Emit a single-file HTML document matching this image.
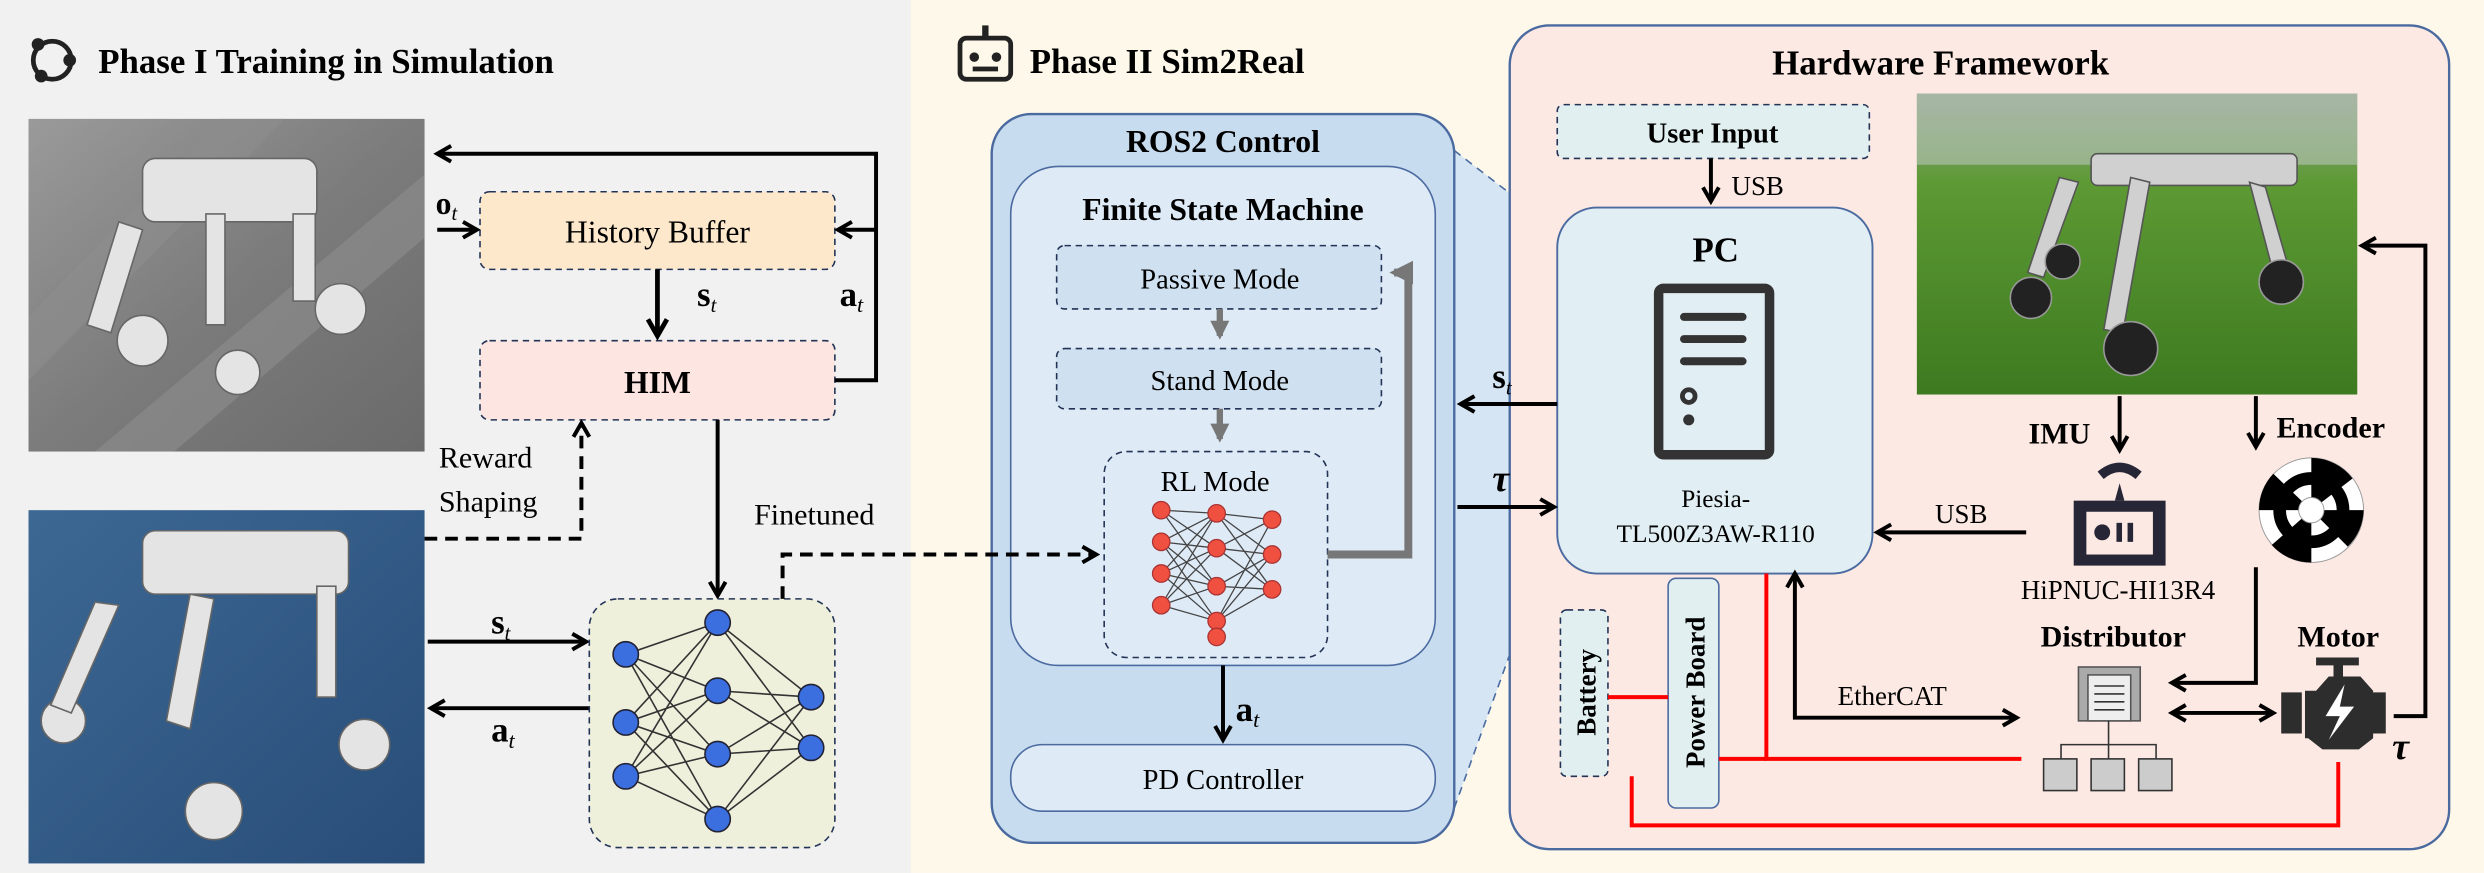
<!DOCTYPE html>
<html><head><meta charset="utf-8"><style>html,body{margin:0;padding:0;}svg{display:block}svg text{font-family:"Liberation Serif",serif;}</style></head>
<body>
<svg width="2484" height="873" viewBox="0 0 1568 551" xmlns="http://www.w3.org/2000/svg" font-family="Liberation Serif, serif">
<defs>
<marker id="ah" viewBox="0 0 10 10" refX="8" refY="5" markerWidth="5" markerHeight="5" orient="auto-start-reverse"><path d="M1,1 L8,5 L1,9" fill="none" stroke="#000" stroke-width="2"/></marker>
<marker id="ag" viewBox="0 0 10 10" refX="8" refY="5" markerWidth="3" markerHeight="3" orient="auto"><path d="M0,0 L10,5 L0,10z" fill="#777"/></marker>
<linearGradient id="g1" x1="0" y1="0" x2="1" y2="1"><stop offset="0" stop-color="#9a9a9a"/><stop offset="0.5" stop-color="#7c7c7c"/><stop offset="1" stop-color="#6a6a6a"/></linearGradient>
<linearGradient id="g2" x1="0" y1="0" x2="1" y2="1"><stop offset="0" stop-color="#3d6894"/><stop offset="1" stop-color="#284d78"/></linearGradient>
<linearGradient id="g3" x1="0" y1="0" x2="0" y2="1"><stop offset="0" stop-color="#8fa08a"/><stop offset="0.3" stop-color="#5d9a34"/><stop offset="1" stop-color="#3d7a20"/></linearGradient>
</defs>
<rect width="1568" height="551" fill="#fdf8ea"/>
<rect width="575" height="551" fill="#f1f1f1"/>
<!-- Phase I -->
<circle cx="33" cy="38" r="12" fill="none" stroke="#222" stroke-width="3"/><circle cx="24" cy="28" r="4" fill="#222"/><circle cx="44" cy="38" r="4" fill="#222"/><circle cx="26" cy="48" r="4" fill="#222"/>
<text x="62" y="46" font-size="22" font-weight="bold">Phase I Training in Simulation</text>
<rect x="18" y="75" width="250" height="210" fill="url(#g1)"/>
<path d="M18,200 L140,75 H180 L18,240z M60,285 L268,110 V150 L110,285z" fill="#8e8e8e" opacity="0.6"/>
<g fill="#e4e4e4" stroke="#666" stroke-width="1"><rect x="90" y="100" width="110" height="40" rx="8"/><path d="M75,140 L90,145 L70,210 L55,205z"/><circle cx="90" cy="215" r="16"/><circle cx="215" cy="195" r="16"/><rect x="185" y="135" width="14" height="55"/><rect x="130" y="135" width="12" height="70"/><circle cx="150" cy="235" r="14"/></g>
<rect x="18" y="322" width="250" height="223" fill="url(#g2)"/>
<g fill="#e4e4e4" stroke="#666" stroke-width="1"><rect x="90" y="335" width="130" height="40" rx="8"/><path d="M120,375 L135,378 L120,460 L105,455z"/><circle cx="40" cy="455" r="14"/><circle cx="135" cy="512" r="18"/><circle cx="230" cy="470" r="16"/><rect x="200" y="370" width="12" height="70"/><path d="M60,380 L75,382 L45,450 L32,445z"/></g>
<rect x="303" y="121" width="224" height="49" rx="6" fill="#fde8cc" stroke="#223355" stroke-dasharray="4,3"/>
<text x="415" y="153" font-size="20" text-anchor="middle">History Buffer</text>
<rect x="303" y="215" width="224" height="50" rx="6" fill="#fde6e1" stroke="#223355" stroke-dasharray="4,3"/>
<text x="415" y="248" font-size="20" font-weight="bold" text-anchor="middle">HIM</text>
<g stroke="#000" stroke-width="2.5" fill="none">
<path d="M527,240 H553 V97 H276" marker-end="url(#ah)"/>
<path d="M553,145 H529" marker-end="url(#ah)"/>
<path d="M276,145 H301" marker-end="url(#ah)"/>
<path d="M415,170 V212" stroke-width="3" marker-end="url(#ah)"/>
<path d="M453,265 V376" marker-end="url(#ah)"/>
<path d="M270,405 H370" marker-end="url(#ah)"/>
<path d="M372,447 H272" marker-end="url(#ah)"/>
<path d="M268,340 H367 V267" stroke-dasharray="8,5" marker-end="url(#ah)"/>
</g>
<text x="275" y="135" font-size="20" font-weight="bold">o<tspan font-size="13" font-style="italic" font-weight="normal" dy="4">t</tspan></text>
<text x="440" y="193" font-size="22" font-weight="bold">s<tspan font-size="13" font-style="italic" font-weight="normal" dy="4">t</tspan></text>
<text x="530" y="193" font-size="22" font-weight="bold">a<tspan font-size="14" font-style="italic" font-weight="normal" dy="4">t</tspan></text>
<text x="277" y="295" font-size="19">Reward</text>
<text x="277" y="323" font-size="19">Shaping</text>
<text x="476" y="331" font-size="19">Finetuned</text>
<text x="310" y="400" font-size="22" font-weight="bold">s<tspan font-size="13" font-style="italic" font-weight="normal" dy="4">t</tspan></text>
<text x="310" y="468" font-size="22" font-weight="bold">a<tspan font-size="14" font-style="italic" font-weight="normal" dy="4">t</tspan></text>
<rect x="372" y="378" width="155" height="157" rx="18" fill="#eef0dc" stroke="#223355" stroke-dasharray="4,3"/>
<g stroke="#333" stroke-width="1">
<path d="M395,413 L453,393 M395,413 L453,436 M395,413 L453,476 M395,456 L453,393 M395,456 L453,436 M395,456 L453,476 M395,456 L453,517 M395,490 L453,436 M395,490 L453,476 M395,490 L453,517 M395,413 L453,517 M395,490 L453,393 M453,393 L512,440 M453,436 L512,440 M453,476 L512,440 M453,517 L512,440 M453,393 L512,472 M453,436 L512,472 M453,476 L512,472 M453,517 L512,472"/>
</g>
<g fill="#3b6fe0" stroke="#223" stroke-width="1"><circle cx="395" cy="413" r="8"/><circle cx="395" cy="456" r="8"/><circle cx="395" cy="490" r="8"/><circle cx="453" cy="393" r="8"/><circle cx="453" cy="436" r="8"/><circle cx="453" cy="476" r="8"/><circle cx="453" cy="517" r="8"/><circle cx="512" cy="440" r="8"/><circle cx="512" cy="472" r="8"/></g>
<!-- Phase II -->
<rect x="606" y="24" width="32" height="26" rx="4" fill="none" stroke="#222" stroke-width="3"/><circle cx="615" cy="36" r="3" fill="#222"/><circle cx="629" cy="36" r="3" fill="#222"/><rect x="614" y="42" width="16" height="3" fill="#222"/><rect x="620" y="16" width="4" height="8" fill="#222"/>
<text x="650" y="46" font-size="22" font-weight="bold">Phase II Sim2Real</text>
<polygon points="918,95 983,145 983,330 918,510" fill="#d6e5f3"/>
<path d="M918,95 L983,145 M918,510 L983,330" stroke="#4a6aa0" stroke-dasharray="5,4"/>
<rect x="626" y="72" width="292" height="460" rx="25" fill="#c8dcef" stroke="#4a6aa0" stroke-width="1.5"/>
<text x="772" y="96" font-size="20" font-weight="bold" text-anchor="middle">ROS2 Control</text>
<rect x="638" y="105" width="268" height="315" rx="30" fill="#deeaf6" stroke="#4a6aa0"/>
<text x="772" y="139" font-size="20" font-weight="bold" text-anchor="middle">Finite State Machine</text>
<rect x="667" y="155" width="205" height="40" rx="5" fill="#cfe0f0" stroke="#223355" stroke-dasharray="4,3"/>
<text x="770" y="182" font-size="18" text-anchor="middle">Passive Mode</text>
<rect x="667" y="220" width="205" height="38" rx="5" fill="#cfe0f0" stroke="#223355" stroke-dasharray="4,3"/>
<text x="770" y="246" font-size="18" text-anchor="middle">Stand Mode</text>
<rect x="697" y="285" width="141" height="130" rx="14" fill="#deeaf6" stroke="#223355" stroke-dasharray="4,3"/>
<text x="767" y="310" font-size="18" text-anchor="middle">RL Mode</text>
<g stroke="#777" stroke-width="4" fill="none"><path d="M770,195 V212" marker-end="url(#ag)"/><path d="M770,258 V277" marker-end="url(#ag)"/><path d="M838,350 H889 V172 H880" stroke-width="5" marker-end="url(#ag)"/></g>
<g stroke="#444" stroke-width="0.8"><path d="M733,342 L768,324 M733,342 L768,346 M733,342 L768,370 M733,342 L768,392 M733,362 L768,324 M733,362 L768,346 M733,362 L768,370 M733,362 L768,392 M733,382 L768,324 M733,382 L768,346 M733,382 L768,370 M733,382 L768,392 M733,322 L768,324 M733,322 L768,346 M733,322 L768,370 M768,324 L803,350 M768,346 L803,350 M768,370 L803,350 M768,392 L803,350 M768,324 L803,372 M768,346 L803,372 M768,370 L803,372 M768,392 L803,372 M768,392 L803,328 M768,324 L803,328 M768,346 L803,328"/></g>
<g fill="#f05040" stroke="#a33" stroke-width="0.8"><circle cx="733" cy="322" r="5.5"/><circle cx="733" cy="342" r="5.5"/><circle cx="733" cy="362" r="5.5"/><circle cx="733" cy="382" r="5.5"/><circle cx="768" cy="324" r="5.5"/><circle cx="768" cy="346" r="5.5"/><circle cx="768" cy="370" r="5.5"/><circle cx="768" cy="392" r="5.5"/><circle cx="768" cy="402" r="5.5"/><circle cx="803" cy="328" r="5.5"/><circle cx="803" cy="350" r="5.5"/><circle cx="803" cy="372" r="5.5"/></g>
<path d="M494,378 V350 H692" stroke="#000" stroke-width="2.5" fill="none" stroke-dasharray="8,5" marker-end="url(#ah)"/>
<path d="M772,420 V467" stroke="#000" stroke-width="2.5" marker-end="url(#ah)"/>
<text x="780" y="455" font-size="22" font-weight="bold">a<tspan font-size="14" font-style="italic" font-weight="normal" dy="4">t</tspan></text>
<rect x="638" y="470" width="268" height="42" rx="20" fill="#deeaf6" stroke="#4a6aa0"/>
<text x="772" y="498" font-size="18" text-anchor="middle">PD Controller</text>
<!-- Hardware -->
<rect x="953" y="16" width="593" height="520" rx="25" fill="#fde9e3" stroke="#4a6aa0" stroke-width="1.5"/>
<text x="1225" y="47" font-size="22" font-weight="bold" text-anchor="middle">Hardware Framework</text>
<rect x="983" y="66" width="197" height="34" rx="4" fill="#e1eff0" stroke="#223355" stroke-dasharray="4,3"/>
<text x="1081" y="90" font-size="18" font-weight="bold" text-anchor="middle">User Input</text>
<rect x="983" y="131" width="199" height="231" rx="25" fill="#e1eef3" stroke="#4a6aa0" stroke-width="1.2"/>
<text x="1083" y="165" font-size="22" font-weight="bold" text-anchor="middle">PC</text>
<rect x="1047" y="182" width="70" height="105" rx="3" fill="none" stroke="#333" stroke-width="6"/>
<g stroke="#333" stroke-width="5" stroke-linecap="round"><path d="M1063,200 H1100 M1063,214 H1100 M1063,228 H1100"/></g>
<circle cx="1066" cy="250" r="4" fill="none" stroke="#333" stroke-width="3"/><circle cx="1066" cy="265" r="3.5" fill="#333"/>
<text x="1083" y="320" font-size="16" text-anchor="middle">Piesia-</text>
<text x="1083" y="342" font-size="16" text-anchor="middle">TL500Z3AW-R110</text>
<rect x="1210" y="59" width="278" height="190" fill="url(#g3)"/>
<rect x="1210" y="59" width="278" height="45" fill="#b8c4b8" opacity="0.6"/>
<g fill="#d0d0d0" stroke="#555" stroke-width="1"><rect x="1320" y="97" width="130" height="20" rx="4"/><path d="M1300,112 L1312,115 L1290,175 L1280,172z"/><path d="M1345,112 L1357,115 L1340,210 L1328,208z"/><path d="M1420,115 L1430,118 L1445,170 L1435,172z"/></g>
<g fill="#222" stroke="#999"><circle cx="1282" cy="188" r="13"/><circle cx="1345" cy="220" r="17"/><circle cx="1302" cy="165" r="11"/><circle cx="1440" cy="178" r="14"/></g>
<g stroke="#000" stroke-width="2.5" fill="none">
<path d="M1080,100 V127" marker-end="url(#ah)"/>
<path d="M983,255 H922" marker-end="url(#ah)"/>
<path d="M920,320 H981" marker-end="url(#ah)"/>
<path d="M1338,250 V284" marker-end="url(#ah)"/>
<path d="M1424,250 V282" marker-end="url(#ah)"/>
<path d="M1279,336 H1185" marker-end="url(#ah)"/>
<path d="M1511,452 H1531 V155 H1491" marker-end="url(#ah)"/>
<path d="M1424,358 V431 H1371" marker-end="url(#ah)"/>
<path d="M1371,450 H1435" marker-start="url(#ah)" marker-end="url(#ah)"/>
<path d="M1133,362 V453 H1273" marker-start="url(#ah)" marker-end="url(#ah)"/>
</g>
<text x="1093" y="123" font-size="17">USB</text>
<text x="1238" y="330" font-size="17" text-anchor="middle">USB</text>
<text x="1160" y="445" font-size="17">EtherCAT</text>
<text x="942" y="245" font-size="22" font-weight="bold">s<tspan font-size="13" font-style="italic" font-weight="normal" dy="4">t</tspan></text>
<text x="942" y="310" font-size="24" font-weight="bold" font-style="italic">τ</text>
<text x="1510" y="479" font-size="24" font-weight="bold" font-style="italic">τ</text>
<text x="1300" y="280" font-size="19" font-weight="bold" text-anchor="middle">IMU</text>
<text x="1437" y="276" font-size="19" font-weight="bold">Encoder</text>
<path d="M1326,300 Q1338,290 1350,300" stroke="#262636" stroke-width="6" fill="none"/>
<path d="M1335,316 L1338,305 L1341,316z" fill="#262636"/>
<rect x="1309" y="316" width="58" height="41" fill="#262636"/><rect x="1317" y="323" width="42" height="27" fill="#fde9e3"/><circle cx="1327" cy="336" r="5" fill="#262636"/><rect x="1336" y="330" width="3.5" height="12" fill="#262636"/><rect x="1343" y="330" width="3.5" height="12" fill="#262636"/>
<text x="1337" y="378" font-size="17" text-anchor="middle">HiPNUC-HI13R4</text>
<circle cx="1459" cy="322" r="33" fill="#fff" stroke="#999" stroke-width="0.6"/>
<path d="M1459,289 A33,33 0 0 1 1485,302 L1459,322z M1426,322 A33,33 0 0 1 1435,299 L1459,322z M1459,322 L1492,322 A33,33 0 0 1 1482,345 L1459,322z M1459,355 A33,33 0 0 1 1434,344 L1459,322z" fill="#000"/>
<circle cx="1459" cy="322" r="20" fill="none" stroke="#000" stroke-width="8"/>
<circle cx="1459" cy="322" r="8" fill="#fff" stroke="#999" stroke-width="0.6"/>
<text x="1334" y="408" font-size="19" font-weight="bold" text-anchor="middle">Distributor</text>
<text x="1476" y="408" font-size="19" font-weight="bold" text-anchor="middle">Motor</text>
<rect x="1312" y="421" width="39" height="34" fill="#aaa" stroke="#555"/><rect x="1318" y="426" width="27" height="29" fill="#eee" stroke="#555"/>
<g stroke="#333" stroke-width="1"><path d="M1322,433 H1341 M1322,438 H1341 M1322,443 H1341 M1322,448 H1341"/></g>
<path d="M1331,455 V479 M1301,479 V470 H1361 V479" stroke="#333" fill="none"/>
<g fill="#ccc" stroke="#333"><rect x="1290" y="479" width="21" height="20"/><rect x="1320" y="479" width="21" height="20"/><rect x="1350" y="479" width="21" height="20"/></g>
<path d="M1455,436 H1462 L1470,427 H1490 L1498,436 V466 L1489,473 H1466 L1457,466 H1455z M1440,437 H1453 V463 H1440z M1498,437 H1506 V463 H1498z M1462,415 H1489 V420 H1462z M1473,420 H1479 V427 H1473z" fill="#2d2d2d"/>
<path d="M1480,432 L1468,452 H1477 L1470,467 L1486,446 H1477z" fill="#fff"/>
<rect x="985" y="385" width="30" height="105" rx="4" fill="#e1eff0" stroke="#223355" stroke-dasharray="4,3"/>
<text transform="translate(1007,437) rotate(-90)" font-size="17" font-weight="bold" text-anchor="middle">Battery</text>
<rect x="1053" y="365" width="32" height="145" rx="5" fill="#e1eff0" stroke="#4a6aa0"/>
<text transform="translate(1076,437) rotate(-90)" font-size="17" font-weight="bold" text-anchor="middle">Power Board</text>
<g stroke="#f00" stroke-width="2.5" fill="none"><path d="M1015,440 H1053"/><path d="M1115,362 V479 H1276"/><path d="M1085,479 H1115"/><path d="M1030,490 V521 H1476 V481"/></g>
</svg>
</body></html>
